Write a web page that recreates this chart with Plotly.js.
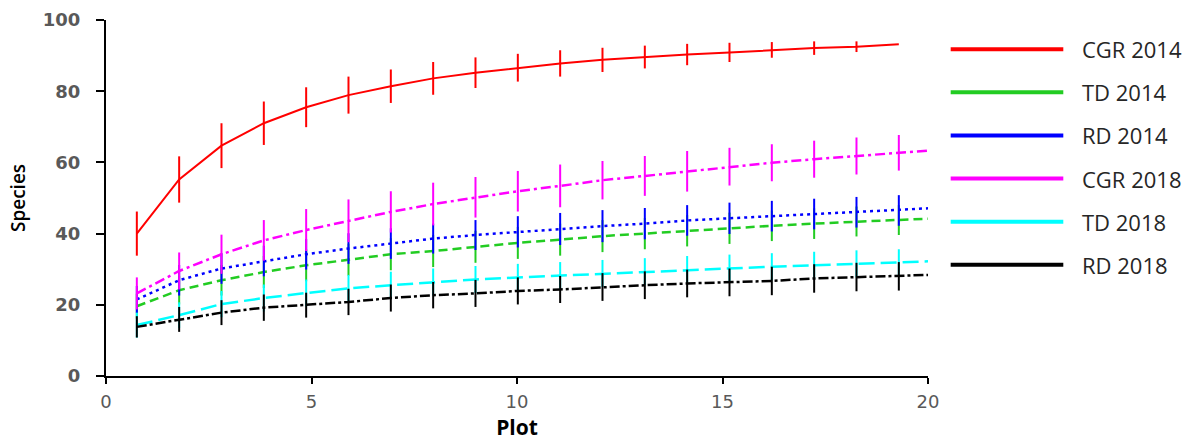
<!DOCTYPE html>
<html>
<head>
<meta charset="utf-8">
<script src="https://cdn.plot.ly/plotly-3.0.1.min.js"></script>
<style>html,body{margin:0;padding:0;background:#fff;}#chart{width:1197px;height:445px;}</style>
</head>
<body>
<div id="chart"></div>
<script>
// x positions of the sampled plots
const plotX = [0.75,1.78,2.81,3.84,4.87,5.90,6.93,7.96,8.99,10.02,11.05,12.08,13.11,14.14,15.17,16.20,17.23,18.26,19.29,20];

const seriesNames = ["CGR 2014","TD 2014","RD 2014","CGR 2018","TD 2018","RD 2018"];
const seriesColors = ["#ff0000","#22cc22","#0000ff","#ff00ff","#00ffff","#000000"];
const seriesDash = ["solid","9px,5px","3px,4px","10px,4px,3px,4px","16px,6px","10px,3px,3px,3px"];

const cgr2014 = [40.0,55.2,64.7,71.0,75.5,78.9,81.4,83.6,85.2,86.6,87.8,88.8,89.6,90.3,90.9,91.6,92.1,92.5,93.2];
const cgr2014Err = [6.2,6.5,6.3,6.1,5.6,5.2,4.7,4.6,4.3,3.9,3.7,3.4,3.2,3.0,2.7,2.2,1.9,1.5,0];

const td2014 = [19.6,24.1,26.9,29.2,31.1,32.7,34.2,35.1,36.3,37.4,38.3,39.3,40.0,40.8,41.5,42.2,42.8,43.4,43.8,44.2];
const td2014Err = [3.5,4.0,4.3,4.5,4.5,4.5,4.5,4.5,4.5,4.5,4.5,4.5,4.4,4.4,4.4,4.3,4.3,4.2,4.2,0];

const rd2014 = [21.5,26.9,30.2,32.3,34.2,35.8,37.2,38.6,39.6,40.5,41.3,42.1,42.8,43.7,44.3,44.9,45.5,46.0,46.5,47.1];
const rd2014Err = [3.8,4.3,4.3,4.3,4.3,4.3,4.3,4.2,4.2,4.4,4.5,4.5,4.4,4.3,4.4,4.3,4.3,4.3,4.3,0];

const cgr2018 = [23.2,29.5,34.2,38.1,41.0,43.6,46.1,48.3,50.2,51.9,53.4,55.0,56.2,57.5,58.8,59.9,60.9,61.8,62.7,63.3];
const cgr2018Err = [4.5,5.2,5.5,5.7,5.9,6.0,5.8,6.0,5.7,5.7,6.0,5.4,5.6,5.7,5.3,5.2,5.2,5.2,5.0,0];

const td2018 = [14.3,17.1,20.2,21.9,23.3,24.6,25.5,26.4,27.1,27.7,28.2,28.8,29.3,29.9,30.3,30.7,31.1,31.5,31.8,32.2];
const td2018Err = [3.5,3.6,3.7,3.8,3.8,3.8,3.8,3.8,3.8,3.8,3.8,3.8,3.8,3.8,3.8,3.8,3.8,3.8,3.8,0];

const rd2018 = [13.8,15.9,17.8,19.2,19.9,20.8,21.9,22.7,23.2,23.9,24.3,25.0,25.5,26.0,26.3,26.7,27.4,27.8,28.0,28.4];
const rd2018Err = [3.0,3.5,3.5,3.7,3.5,3.7,3.8,3.7,3.8,3.8,3.8,3.9,3.9,3.9,3.9,4.0,4.0,4.0,4.0,0];

const seriesY = [cgr2014, td2014, rd2014, cgr2018, td2018, rd2018];
const seriesErr = [cgr2014Err, td2014Err, rd2014Err, cgr2018Err, td2018Err, rd2018Err];

const yTicks = [0,20,40,60,80,100];
const xTicks = [0,5,10,15,20];

const traces = [];
for (let i = 0; i < seriesNames.length; i++) {
  traces.push({
    type: 'scatter',
    mode: 'lines',
    name: seriesNames[i],
    x: plotX.slice(0, seriesY[i].length),
    y: seriesY[i],
    line: {color: seriesColors[i], width: i === 0 ? 2 : 2.5, dash: seriesDash[i]},
    error_y: {type: 'data', array: seriesErr[i], visible: true, color: seriesColors[i], thickness: 2, width: 0},
    showlegend: false,
    hoverinfo: 'skip'
  });
}

// legend drawn to the right of the plot (paper coordinates)
const shapes = [];
const annotations = [];
const legTop = 0.918, legStep = 0.1211;
for (let i = 0; i < seriesNames.length; i++) {
  const yy = legTop - i * legStep;
  shapes.push({type: 'line', xref: 'paper', yref: 'paper', x0: 1.0276, x1: 1.1646, y0: yy, y1: yy,
    line: {color: seriesColors[i], width: 4}});
  annotations.push({xref: 'paper', yref: 'paper', x: 1.1849, y: yy, xanchor: 'left', yanchor: 'middle',
    text: seriesNames[i], showarrow: false,
    font: {family: 'Open Sans, sans-serif', size: 22, color: '#262626'}});
}

const layout = {
  width: 1197, height: 445,
  margin: {l: 106, r: 269, t: 20, b: 69},
  paper_bgcolor: '#ffffff', plot_bgcolor: '#ffffff',
  showlegend: false,
  xaxis: {
    range: [0, 20], tickvals: xTicks, ticktext: xTicks.map(String),
    showgrid: false, zeroline: false, showline: true, linecolor: '#000', linewidth: 2,
    ticks: 'outside', ticklen: 6, tickwidth: 2, tickcolor: '#000',
    ticklabelstandoff: 2,
    tickfont: {family: 'DejaVu Sans, sans-serif', size: 18, color: '#595959'},
    title: {text: 'Plot', standoff: 10, font: {family: 'Open Sans, sans-serif', size: 21, weight: 700, color: '#000'}}
  },
  yaxis: {
    range: [0, 100], tickvals: yTicks, ticktext: yTicks.map(String),
    showgrid: false, zeroline: false, showline: true, linecolor: '#000', linewidth: 2,
    ticks: 'outside', ticklen: 8, tickwidth: 2, tickcolor: '#000',
    ticklabelstandoff: 12,
    tickfont: {family: 'DejaVu Sans, sans-serif', size: 18, weight: 700, color: '#595959'},
    title: {text: 'Species', standoff: 12, font: {family: 'Open Sans, sans-serif', size: 19, weight: 600, color: '#000'}}
  },
  shapes: shapes,
  annotations: annotations
};

Plotly.newPlot('chart', traces, layout, {displayModeBar: false, staticPlot: true});
</script>
</body>
</html>
